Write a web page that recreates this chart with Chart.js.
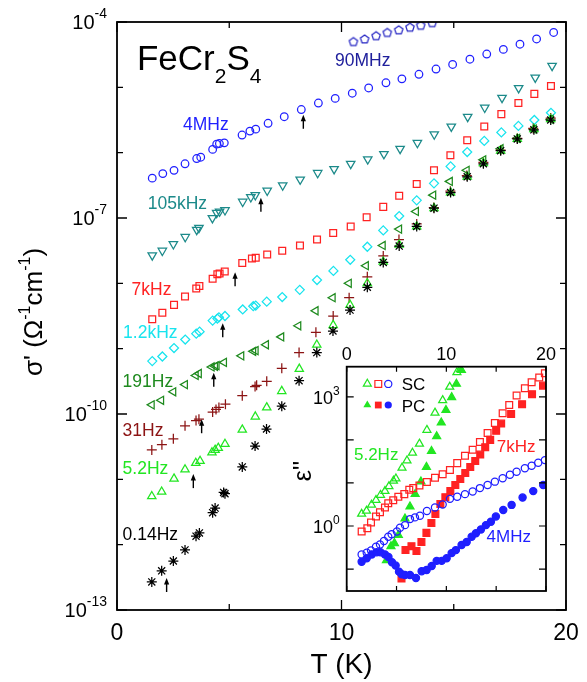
<!DOCTYPE html>
<html>
<head>
<meta charset="utf-8">
<script src="https://cdn.jsdelivr.net/npm/chart.js@4.4.0/dist/chart.umd.min.js"></script>
<style>
  html, body { margin: 0; padding: 0; background: #fff; }
  #wrap { position: relative; width: 587px; height: 682px; }
  #main { position: absolute; left: 0; top: 0; }
  #inset { position: absolute; left: 280px; top: 330px; }
</style>
</head>
<body>
<div id="wrap">
  <canvas id="main" width="587" height="682"></canvas>
  <canvas id="inset" width="290" height="270"></canvas>
</div>
<script>
// main panel: T (K) and log10 of sigma'
const t90MHz = [10.53, 11.03, 11.54, 12.04, 12.55, 13.05, 13.53, 14.04];
const s90MHz = [-4.30, -4.26, -4.21, -4.16, -4.12, -4.08, -4.05, -4.01];

const t4MHz = [1.57, 2.04, 2.54, 3.03, 3.55, 3.73, 4.26, 4.44, 4.56, 4.78, 5.57, 5.92, 6.18, 6.73, 7.45, 8.21, 8.97, 9.72, 10.48, 11.21, 11.98, 12.69, 13.45, 14.21, 14.95, 15.72, 16.47, 17.21, 17.95, 18.69, 19.45];
const s4MHz = [-6.39, -6.32, -6.27, -6.17, -6.09, -6.07, -5.95, -5.87, -5.86, -5.85, -5.73, -5.67, -5.64, -5.55, -5.45, -5.34, -5.24, -5.17, -5.09, -5.01, -4.93, -4.87, -4.80, -4.72, -4.65, -4.57, -4.49, -4.42, -4.34, -4.26, -4.16];

const t105kHz = [1.57, 2.02, 2.51, 3.04, 3.55, 3.65, 4.25, 4.44, 4.57, 4.81, 5.60, 5.96, 6.16, 6.69, 7.38, 8.16, 8.94, 9.67, 10.41, 11.17, 11.89, 12.61, 13.38, 14.13, 14.89, 15.62, 16.38, 17.15, 17.89, 18.63, 19.38];
const s105kHz = [-7.57, -7.50, -7.40, -7.29, -7.18, -7.15, -7.00, -6.92, -6.90, -6.88, -6.75, -6.68, -6.65, -6.58, -6.50, -6.41, -6.31, -6.25, -6.17, -6.10, -6.02, -5.94, -5.85, -5.72, -5.60, -5.45, -5.31, -5.16, -5.01, -4.85, -4.67];

const t7kHz = [1.57, 2.02, 2.54, 3.03, 3.53, 3.67, 4.26, 4.47, 4.57, 4.80, 5.58, 6.01, 6.18, 6.69, 7.36, 8.15, 8.91, 9.63, 10.41, 11.12, 11.86, 12.57, 13.35, 14.12, 14.85, 15.60, 16.36, 17.12, 17.88, 18.59, 19.33];
const s7kHz = [-8.55, -8.45, -8.33, -8.20, -8.08, -8.04, -7.93, -7.86, -7.85, -7.82, -7.69, -7.62, -7.61, -7.56, -7.50, -7.42, -7.33, -7.23, -7.13, -6.99, -6.83, -6.66, -6.48, -6.27, -6.04, -5.81, -5.60, -5.41, -5.24, -5.10, -4.98];

const t1k2Hz = [1.57, 2.02, 2.54, 3.04, 3.53, 3.68, 4.26, 4.47, 4.54, 4.81, 5.60, 6.07, 6.18, 6.67, 7.36, 8.14, 8.91, 9.64, 10.39, 11.15, 11.86, 12.57, 13.35, 14.12, 14.86, 15.60, 16.36, 17.12, 17.88, 18.59, 19.33];
const s1k2Hz = [-9.19, -9.12, -8.99, -8.86, -8.77, -8.74, -8.57, -8.54, -8.52, -8.50, -8.40, -8.35, -8.34, -8.28, -8.21, -8.10, -7.95, -7.81, -7.64, -7.44, -7.19, -6.97, -6.73, -6.47, -6.21, -5.99, -5.82, -5.69, -5.59, -5.50, -5.39];

const t191Hz = [1.55, 1.97, 2.51, 3.03, 3.51, 3.65, 4.22, 4.37, 4.44, 4.77, 5.54, 6.07, 6.18, 6.64, 7.32, 8.08, 8.85, 9.61, 10.33, 11.09, 11.84, 12.57, 13.32, 14.09, 14.83, 15.58, 16.32, 17.09, 17.83, 18.57, 19.32];
const s191Hz = [-9.86, -9.79, -9.66, -9.55, -9.41, -9.38, -9.28, -9.27, -9.26, -9.21, -9.11, -9.04, -9.03, -8.94, -8.82, -8.65, -8.42, -8.22, -8.00, -7.73, -7.42, -7.17, -6.90, -6.65, -6.44, -6.27, -6.11, -5.94, -5.78, -5.64, -5.49];

const t31Hz = [1.55, 2.00, 2.51, 3.03, 3.52, 3.65, 4.26, 4.41, 4.54, 4.83, 5.58, 6.15, 6.22, 6.67, 7.34, 8.11, 8.86, 9.63, 10.34, 11.15, 11.86, 12.56, 13.35, 14.11, 14.85, 15.58, 16.32, 17.09, 17.83, 18.54, 19.32];
const s31Hz = [-10.55, -10.47, -10.38, -10.18, -10.10, -10.08, -9.97, -9.93, -9.90, -9.85, -9.72, -9.58, -9.56, -9.50, -9.30, -9.06, -8.75, -8.50, -8.22, -7.90, -7.58, -7.33, -7.09, -6.84, -6.59, -6.35, -6.15, -5.96, -5.78, -5.63, -5.47];

const t5Hz = [1.55, 1.99, 2.54, 3.03, 3.51, 3.70, 4.23, 4.37, 4.51, 4.81, 5.58, 6.16, 6.67, 7.34, 8.12, 8.90, 9.63, 10.38, 11.15, 11.86, 12.57, 13.35, 14.12, 14.86, 15.60, 16.32, 17.09, 17.83, 18.57, 19.32];
const s5Hz = [-11.26, -11.19, -10.99, -10.85, -10.75, -10.72, -10.59, -10.55, -10.52, -10.46, -10.24, -10.04, -9.90, -9.65, -9.31, -8.94, -8.64, -8.33, -8.00, -7.67, -7.41, -7.13, -6.85, -6.61, -6.37, -6.16, -5.97, -5.79, -5.64, -5.49];

const t014Hz = [1.55, 1.99, 2.51, 3.03, 3.52, 3.67, 4.26, 4.37, 4.75, 4.81, 5.58, 6.15, 6.66, 7.34, 8.11, 8.90, 9.62, 10.38, 11.15, 11.86, 12.57, 13.35, 14.12, 14.86, 15.60, 16.32, 17.09, 17.83, 18.57, 19.32];
const s014Hz = [-12.57, -12.40, -12.25, -12.08, -11.87, -11.82, -11.51, -11.44, -11.20, -11.22, -10.81, -10.49, -10.23, -9.88, -9.49, -9.06, -8.73, -8.41, -8.06, -7.68, -7.43, -7.13, -6.85, -6.61, -6.37, -6.17, -5.97, -5.79, -5.65, -5.50];

// arrows (T, log10 sigma at arrow tip)
const arrowT = [8.30, 6.41, 5.26, 4.71, 4.31, 3.77, 3.40, 2.21];
const arrowS = [-5.42, -6.69, -7.83, -8.61, -9.37, -10.08, -10.92, -12.51];

// inset: T (K) and log10 of eps''
const tSC5Hz = [1.50, 1.99, 2.49, 2.94, 3.39, 3.84, 4.24, 4.69, 4.94, 5.55, 6.05, 6.60, 7.30, 8.05, 8.86, 9.63, 10.34, 11.06, 11.41];
const eSC5Hz = [0.28, 0.35, 0.49, 0.60, 0.72, 0.81, 0.92, 1.05, 1.10, 1.35, 1.52, 1.70, 1.91, 2.23, 2.63, 2.92, 3.23, 3.57, 3.64];
const tPC5Hz = [3.99, 4.44, 4.79, 5.18, 5.85, 6.35, 6.87, 7.45, 8.00, 8.51, 9.03, 9.49, 9.96, 10.53, 11.01, 11.51];
const ePC5Hz = [-0.80, -0.47, -0.40, -0.21, 0.17, 0.45, 0.74, 1.03, 1.37, 1.74, 2.08, 2.40, 2.69, 2.99, 3.30, 3.62];
const tSC7kHz = [1.50, 2.07, 2.44, 2.94, 3.34, 3.84, 4.17, 4.67, 5.18, 5.78, 6.28, 6.68, 7.30, 8.05, 8.86, 9.63, 10.36, 11.09, 11.87, 12.64, 13.37, 14.14, 14.87, 15.65, 16.31, 17.05, 17.88, 18.56, 19.32, 19.89];
const eSC7kHz = [-0.13, -0.05, 0.08, 0.22, 0.32, 0.43, 0.53, 0.60, 0.68, 0.74, 0.84, 0.88, 0.94, 1.02, 1.12, 1.20, 1.30, 1.46, 1.63, 1.77, 1.95, 2.16, 2.39, 2.62, 2.81, 3.03, 3.20, 3.34, 3.45, 3.55];
const tPC7kHz = [5.5, 5.9, 6.5, 7.0, 7.5, 8.0, 8.5, 8.9, 9.4, 9.9, 10.4, 10.9, 11.4, 11.9, 12.4, 12.9, 13.4, 13.9, 14.4, 15.0, 15.5, 16.5, 17.6, 18.6, 19.7];
const ePC7kHz = [-1.22, -0.56, -0.47, -0.58, -0.37, -0.16, 0.07, 0.28, 0.51, 0.67, 0.81, 0.95, 1.09, 1.23, 1.37, 1.51, 1.66, 1.83, 2.00, 2.21, 2.38, 2.60, 2.83, 3.06, 3.26];
const tSC4MHz = [1.50, 2.01, 2.44, 2.94, 3.34, 3.74, 4.17, 4.51, 5.04, 5.35, 5.85, 6.35, 6.85, 7.35, 8.05, 8.86, 9.63, 10.36, 11.09, 11.87, 12.64, 13.37, 14.14, 14.87, 15.65, 16.38, 17.05, 17.88, 18.56, 19.22, 19.89];
const eSC4MHz = [-0.66, -0.62, -0.57, -0.48, -0.43, -0.35, -0.25, -0.19, -0.13, -0.04, 0.02, 0.16, 0.20, 0.24, 0.35, 0.43, 0.50, 0.63, 0.68, 0.74, 0.80, 0.88, 0.95, 1.03, 1.11, 1.19, 1.26, 1.34, 1.40, 1.47, 1.53];
const tPC4MHz = [1.50, 2.01, 2.51, 3.01, 3.39, 3.84, 4.19, 4.54, 4.91, 5.25, 5.52, 5.85, 6.35, 6.95, 7.52, 8.02, 8.53, 9.03, 9.53, 10.03, 10.53, 10.96, 11.53, 12.04, 12.54, 12.97, 13.47, 13.97, 14.47, 14.97, 15.71, 16.55, 17.65, 18.72, 19.72];
const ePC4MHz = [-0.83, -0.75, -0.66, -0.61, -0.61, -0.66, -0.72, -0.84, -0.92, -1.06, -1.12, -1.14, -1.14, -1.21, -1.05, -1.02, -0.93, -0.81, -0.81, -0.75, -0.63, -0.56, -0.44, -0.37, -0.25, -0.17, -0.08, 0.02, 0.10, 0.22, 0.37, 0.49, 0.66, 0.81, 0.95];

// ticks
const mainXTicks = [0, 5, 10, 15, 20];
const mainXLabels = [0, 10, 20];
const mainYTicks = [-13, -12, -11, -10, -9, -8, -7, -6, -5, -4];
const mainYLabels = [-4, -7, -10, -13];
const insetXTicks = [0, 5, 10, 15, 20];
const insetXLabels = [0, 10, 20];
const insetYTicks = [-1, 0, 1, 2, 3];
const insetYLabels = [3, 0];

const FONT = '"Liberation Sans", Arial, Helvetica, sans-serif';
const font = px => px + 'px ' + FONT;

const C = {
  navy: '#2626c4', navyText: '#20209c', blue: '#1f1fff', teal: '#1c8a8a', red: '#ff2222',
  cyan: '#18e4ee', dkgreen: '#1e8a1e', dkred: '#8c1414', lime: '#22e622', black: '#000000'
};

// text labels next to the curves, anchored in data units
const mainLabels = [
  { text: '90MHz', t: 9.71, s: -4.67, color: C.navyText },
  { text: '4MHz', t: 2.94, s: -5.65, color: C.blue },
  { text: '105kHz', t: 1.37, s: -6.86, color: C.teal },
  { text: '7kHz', t: 0.65, s: -8.18, color: C.red },
  { text: '1.2kHz', t: 0.27, s: -8.84, color: C.cyan },
  { text: '191Hz', t: 0.25, s: -9.59, color: C.dkgreen },
  { text: '31Hz', t: 0.25, s: -10.34, color: C.dkred },
  { text: '5.2Hz', t: 0.25, s: -10.92, color: C.lime },
  { text: '0.14Hz', t: 0.25, s: -11.93, color: C.black }
];
const insetLabels = [
  { text: '5.2Hz', t: 0.73, e: 1.53, color: C.lime },
  { text: '7kHz', t: 15.05, e: 1.73, color: C.red },
  { text: '4MHz', t: 14.04, e: -0.37, color: C.blue }
];

function pts(ts, vs) { return ts.map((t, i) => ({ x: t, y: vs[i] })); }

function series(label, ts, vs, style, color, radius, extra) {
  return Object.assign({
    label,
    data: pts(ts, vs),
    pointStyle: style,
    pointRadius: radius,
    pointBorderColor: color,
    pointBackgroundColor: 'rgba(0,0,0,0)',
    pointBorderWidth: 1.25,
    clip: 0
  }, extra || {});
}

function pentagon(color) {
  const c = document.createElement('canvas');
  c.width = 12; c.height = 12;
  const g = c.getContext('2d');
  g.strokeStyle = color; g.lineWidth = 1.25;
  g.beginPath();
  for (let k = 0; k < 5; k++) {
    const a = -Math.PI / 2 + k * 2 * Math.PI / 5;
    const px = 6 + 4.4 * Math.cos(a), py = 6.4 + 4.4 * Math.sin(a);
    if (k) g.lineTo(px, py); else g.moveTo(px, py);
  }
  g.closePath(); g.stroke();
  return c;
}

function rich(ctx, parts, x, y, align) {
  let w = 0;
  parts.forEach(p => { ctx.font = font(p[1]); w += ctx.measureText(p[0]).width; });
  let cx = align === 'right' ? x - w : align === 'center' ? x - w / 2 : x;
  ctx.textAlign = 'left';
  ctx.textBaseline = 'alphabetic';
  parts.forEach(p => {
    ctx.font = font(p[1]);
    ctx.fillText(p[0], cx, y - (p[2] || 0));
    cx += ctx.measureText(p[0]).width;
  });
}

function hideAxis(min, max, horizontal) {
  return {
    type: 'linear', min, max,
    grid: { display: false, drawTicks: false },
    border: { display: false },
    ticks: { display: false },
    afterFit: s => { if (horizontal) s.height = 0; else s.width = 0; }
  };
}

const mainDecor = {
  id: 'mainDecor',
  afterDatasetsDraw(chart) {
    const { ctx, chartArea: a } = chart;
    const sx = chart.scales.x, sy = chart.scales.y;
    ctx.save();
    ctx.strokeStyle = '#000';
    ctx.fillStyle = '#000';
    ctx.lineWidth = 1.8;
    ctx.strokeRect(a.left, a.top, a.right - a.left, a.bottom - a.top);

    ctx.lineWidth = 1.3;
    ctx.beginPath();
    mainYTicks.forEach(v => {
      const py = sy.getPixelForValue(v);
      const len = mainYLabels.includes(v) ? 10 : 6;
      ctx.moveTo(a.left, py); ctx.lineTo(a.left + len, py);
      ctx.moveTo(a.right, py); ctx.lineTo(a.right - len, py);
    });
    mainXTicks.forEach(v => {
      const px = sx.getPixelForValue(v);
      const len = mainXLabels.includes(v) ? 10 : 6;
      ctx.moveTo(px, a.bottom); ctx.lineTo(px, a.bottom - len);
      ctx.moveTo(px, a.top); ctx.lineTo(px, a.top + len);
    });
    ctx.stroke();

    // tick labels
    mainYLabels.forEach(v => {
      rich(ctx, [['10', 20, 0], [String(v), 14, 11]], a.left - 10, sy.getPixelForValue(v) + 7, 'right');
    });
    ctx.font = font(23);
    ctx.textAlign = 'center';
    mainXLabels.forEach(v => ctx.fillText(String(v), sx.getPixelForValue(v), a.bottom + 30));

    // axis titles
    ctx.font = font(28);
    ctx.textAlign = 'center';
    ctx.fillText('T (K)', (a.left + a.right) / 2, 673);
    ctx.save();
    ctx.translate(42, 312);
    ctx.rotate(-Math.PI / 2);
    rich(ctx, [["σ' (Ω", 26, 0], ['-1', 16, 12], ['cm', 26, 0], ['-1', 16, 12], [')', 26, 0]], 0, 0, 'center');
    ctx.restore();

    // compound name
    rich(ctx, [['FeCr', 35, 0], ['2', 21, -13], ['S', 35, 0], ['4', 21, -13]],
      sx.getPixelForValue(0.89), sy.getPixelForValue(-4.73), 'left');

    // curve labels
    mainLabels.forEach(l => {
      ctx.fillStyle = l.color;
      rich(ctx, [[l.text, 17.5, 0]], sx.getPixelForValue(l.t), sy.getPixelForValue(l.s), 'left');
    });

    // arrows
    ctx.fillStyle = '#000';
    ctx.strokeStyle = '#000';
    ctx.lineWidth = 1.4;
    arrowT.forEach((t, i) => {
      const px = sx.getPixelForValue(t), py = sy.getPixelForValue(arrowS[i]);
      ctx.beginPath();
      ctx.moveTo(px, py + 14); ctx.lineTo(px, py + 4);
      ctx.stroke();
      ctx.beginPath();
      ctx.moveTo(px, py); ctx.lineTo(px - 2.6, py + 6.5); ctx.lineTo(px + 2.6, py + 6.5);
      ctx.closePath(); ctx.fill();
    });
    ctx.restore();
  }
};

new Chart(document.getElementById('main'), {
  type: 'scatter',
  data: {
    datasets: [
      series('0.14Hz', t014Hz, s014Hz, 'star', C.black, 5),
      series('5.2Hz', t5Hz, s5Hz, 'triangle', C.lime, 4.8),
      series('31Hz', t31Hz, s31Hz, 'cross', C.dkred, 5),
      series('191Hz', t191Hz, s191Hz, 'triangle', C.dkgreen, 4.7, { pointRotation: -90 }),
      series('1.2kHz', t1k2Hz, s1k2Hz, 'rectRot', C.cyan, 4.5),
      series('7kHz', t7kHz, s7kHz, 'rect', C.red, 4.8),
      series('105kHz', t105kHz, s105kHz, 'triangle', C.teal, 4.9, { pointRotation: 180 }),
      series('4MHz', t4MHz, s4MHz, 'circle', C.blue, 3.8),
      series('90MHz', t90MHz, s90MHz, pentagon(C.navy), C.navy, 4)
    ]
  },
  options: {
    responsive: false,
    animation: false,
    events: [],
    layout: { padding: { left: 117, right: 21, top: 22, bottom: 72 } },
    plugins: { legend: { display: false }, tooltip: { enabled: false } },
    scales: { x: hideAxis(0, 20, true), y: hideAxis(-13, -4, false) }
  },
  plugins: [mainDecor]
});

// ---------- inset ----------
function marker(ctx, kind, filled, color, x, y) {
  ctx.save();
  ctx.strokeStyle = color; ctx.fillStyle = color; ctx.lineWidth = 1.2;
  ctx.beginPath();
  if (kind === 'tri') {
    const r = 4.6;
    ctx.moveTo(x, y - r);
    ctx.lineTo(x + r * 0.866, y + r / 2);
    ctx.lineTo(x - r * 0.866, y + r / 2);
    ctx.closePath();
  } else if (kind === 'sq') {
    ctx.rect(x - 3.4, y - 3.4, 6.8, 6.8);
  } else {
    ctx.arc(x, y, 3.6, 0, Math.PI * 2);
  }
  if (filled) ctx.fill(); else ctx.stroke();
  ctx.restore();
}

const insetDecor = {
  id: 'insetDecor',
  beforeDatasetsDraw(chart) {
    const { ctx, chartArea: a } = chart;
    ctx.save();
    ctx.fillStyle = '#fff';
    ctx.fillRect(a.left, a.top, a.right - a.left, a.bottom - a.top);
    ctx.restore();
  },
  afterDatasetsDraw(chart) {
    const { ctx, chartArea: a } = chart;
    const sx = chart.scales.x, sy = chart.scales.y;
    ctx.save();
    ctx.strokeStyle = '#000';
    ctx.fillStyle = '#000';
    ctx.lineWidth = 1.8;
    ctx.strokeRect(a.left, a.top, a.right - a.left, a.bottom - a.top);
    ctx.lineWidth = 1.2;
    ctx.beginPath();
    insetYTicks.forEach(v => {
      const py = sy.getPixelForValue(v);
      ctx.moveTo(a.left, py); ctx.lineTo(a.left + 7, py);
      ctx.moveTo(a.right, py); ctx.lineTo(a.right - 7, py);
    });
    insetXTicks.forEach(v => {
      const px = sx.getPixelForValue(v);
      ctx.moveTo(px, a.bottom); ctx.lineTo(px, a.bottom - 5);
      ctx.moveTo(px, a.top); ctx.lineTo(px, a.top + 5);
    });
    ctx.stroke();

    insetYLabels.forEach(v => {
      rich(ctx, [['10', 18, 0], [String(v), 12, 9]], a.left - 7, sy.getPixelForValue(v) + 7, 'right');
    });
    ctx.font = font(18);
    ctx.textAlign = 'center';
    insetXLabels.forEach(v => ctx.fillText(String(v), sx.getPixelForValue(v), a.top - 7));

    // eps'' axis title
    ctx.save();
    ctx.translate(31, 141);
    ctx.rotate(-Math.PI / 2);
    rich(ctx, [["ε''", 25, 0]], 0, 0, 'center');
    ctx.restore();

    // legend
    const legendT = [2.07, 3.17, 4.17];
    const kinds = ['tri', 'sq', 'circ'];
    const cols = [C.lime, C.red, C.blue];
    kinds.forEach((k, i) => {
      marker(ctx, k, false, cols[i], sx.getPixelForValue(legendT[i]), sy.getPixelForValue(3.30));
      marker(ctx, k, true, cols[i], sx.getPixelForValue(legendT[i]), sy.getPixelForValue(2.81));
    });
    ctx.fillStyle = '#000';
    rich(ctx, [['SC', 17, 0]], sx.getPixelForValue(5.52), sy.getPixelForValue(3.15), 'left');
    rich(ctx, [['PC', 17, 0]], sx.getPixelForValue(5.52), sy.getPixelForValue(2.65), 'left');

    insetLabels.forEach(l => {
      ctx.fillStyle = l.color;
      rich(ctx, [[l.text, 17, 0]], sx.getPixelForValue(l.t), sy.getPixelForValue(l.e), 'left');
    });
    ctx.restore();
  }
};

function filled(label, ts, vs, style, color, radius) {
  return series(label, ts, vs, style, color, radius, { pointBackgroundColor: color });
}

new Chart(document.getElementById('inset'), {
  type: 'scatter',
  data: {
    datasets: [
      series('SC 4MHz', tSC4MHz, eSC4MHz, 'circle', C.blue, 3.6),
      filled('PC 4MHz', tPC4MHz, ePC4MHz, 'circle', C.blue, 3.6),
      series('SC 7kHz', tSC7kHz, eSC7kHz, 'rect', C.red, 4.8),
      filled('PC 7kHz', tPC7kHz, ePC7kHz, 'rect', C.red, 4.8),
      series('SC 5.2Hz', tSC5Hz, eSC5Hz, 'triangle', C.lime, 4.6),
      filled('PC 5.2Hz', tPC5Hz, ePC5Hz, 'triangle', C.lime, 4.6)
    ]
  },
  options: {
    responsive: false,
    animation: false,
    events: [],
    layout: { padding: { left: 66.7, right: 24, top: 36.7, bottom: 9 } },
    plugins: { legend: { display: false }, tooltip: { enabled: false } },
    scales: { x: hideAxis(0, 20, true), y: hideAxis(-1.51, 3.70, false) }
  },
  plugins: [insetDecor]
});
</script>
</body>
</html>
